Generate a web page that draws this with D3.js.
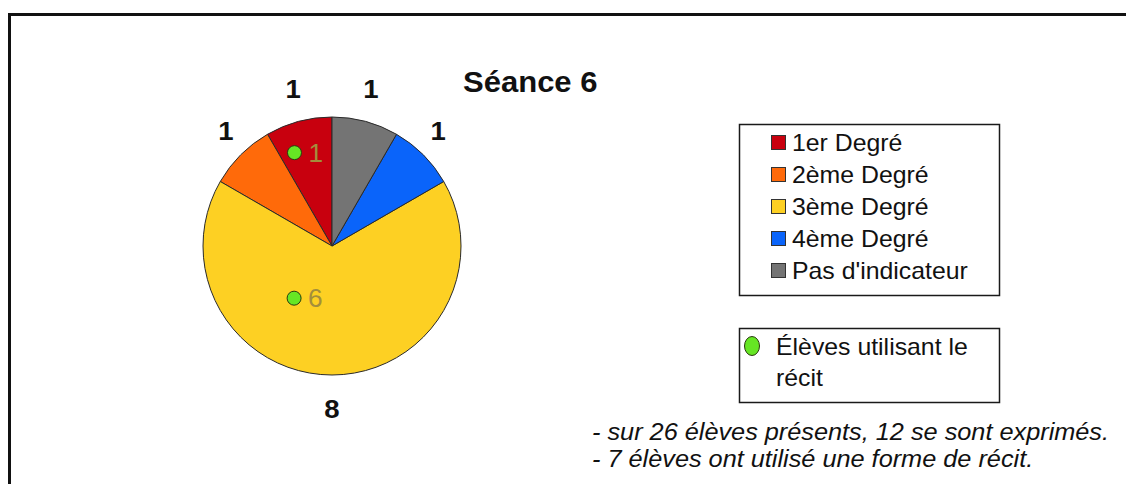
<!DOCTYPE html>
<html>
<head>
<meta charset="utf-8">
<script src="https://cdn.jsdelivr.net/npm/d3@7"></script>
<style>
    body { margin: 0; background: #fff; }
    svg { display: block; font-family: "Liberation Sans", Arial, sans-serif; }
</style>
</head>
<body>
<div id="chart"></div>
<script>
// Données de la séance
const categories = ["1er Degré", "2ème Degré", "3ème Degré", "4ème Degré", "Pas d'indicateur"];
const counts = [1, 1, 8, 1, 1];
const recitCounts = [1, 0, 6, 0, 0];
const colors = ["#c8000e", "#ff6a0a", "#fdd023", "#0a64fa", "#747474"];
const title = "Séance 6";
const recitLabel = ["Élèves utilisant le", "récit"];
const notes = [
    "- sur 26 élèves présents, 12 se sont exprimés.",
    "- 7 élèves ont utilisé une forme de récit.",
];

const W = 1126, H = 484;
const STRETCH = 1.08; // le texte de l'original est un peu élargi
const cx = 332, cy = 246, R = 129;
// étiquettes hors du camembert : rayon horizontal / vertical
const LRX = 150, LRY = 163;

// placement des pastilles vertes dans leur secteur (fraction d'angle, fraction de rayon)
const dotPlacement = { 0: { t: 0.73, r: 0.78 }, 2: { t: 0.35, r: 0.5 } };

const svg = d3.select("#chart").append("svg")
    .attr("width", W)
    .attr("height", H);

// cadre
svg.append("path")
    .attr("d", `M9.5,${H + 5} L9.5,14.5 L${W + 5},14.5`)
    .attr("fill", "none")
    .attr("stroke", "#111")
    .attr("stroke-width", 3);

function stretchedText(parent, x, y, txt, sx) {
    return parent.append("text")
        .attr("transform", `translate(${x},${y}) scale(${sx},1)`)
        .text(txt);
}

// camembert (sens anti-horaire à partir du haut)
const pie = d3.pie().sort(null).startAngle(0).endAngle(-2 * Math.PI);
const arcs = pie(counts);
const arc = d3.arc().innerRadius(0).outerRadius(R);

const g = svg.append("g").attr("transform", `translate(${cx},${cy})`);

g.selectAll("path.slice")
    .data(arcs)
    .join("path")
    .attr("class", "slice")
    .attr("d", arc)
    .attr("fill", (d, i) => colors[i])
    .attr("stroke", "#2a2a2a")
    .attr("stroke-width", 1);

g.selectAll("g.val")
    .data(arcs)
    .join("g")
    .attr("class", "val")
    .each(function (d) {
        const a = (d.startAngle + d.endAngle) / 2;
        const x = LRX * Math.sin(a), y = -LRY * Math.cos(a);
        stretchedText(d3.select(this), x, y + 9, d.data, 1.1)
            .attr("text-anchor", "middle")
            .attr("font-weight", "bold")
            .attr("font-size", 25)
            .attr("fill", "#111");
    });

// pastilles "récit"
arcs.forEach((d, i) => {
    if (!recitCounts[i]) return;
    const p = dotPlacement[i];
    const a = d.startAngle + (d.endAngle - d.startAngle) * p.t;
    const rr = R * p.r;
    const x = rr * Math.sin(a), y = -rr * Math.cos(a);
    g.append("circle")
        .attr("cx", x).attr("cy", y).attr("r", 7)
        .attr("fill", "#66e624")
        .attr("stroke", "#2a3a10")
        .attr("stroke-width", 1);
    stretchedText(g, x + 14, y + 9, recitCounts[i], 1.05)
        .attr("font-size", 25)
        .attr("fill", "#a38e3c");
});

// titre
stretchedText(svg, 463, 92, title, 1.07)
    .attr("font-weight", "bold")
    .attr("font-size", 29)
    .attr("fill", "#111");

// légende des degrés
const leg = svg.append("g");
leg.append("rect")
    .attr("x", 739.5).attr("y", 124.5)
    .attr("width", 260).attr("height", 171)
    .attr("fill", "#fff")
    .attr("stroke", "#1a1a1a")
    .attr("stroke-width", 1.5);

const rowY = d3.scaleLinear().domain([0, 1]).range([151, 183]);
categories.forEach((c, i) => {
    const y = rowY(i);
    leg.append("rect")
        .attr("x", 771.5).attr("y", y - 15.5)
        .attr("width", 14).attr("height", 14)
        .attr("fill", colors[i])
        .attr("stroke", "#333")
        .attr("stroke-width", 1);
    stretchedText(leg, 792, y, c, STRETCH)
        .attr("font-size", 23)
        .attr("fill", "#111");
});

// légende récit
const leg2 = svg.append("g");
leg2.append("rect")
    .attr("x", 739.5).attr("y", 328.5)
    .attr("width", 260).attr("height", 74)
    .attr("fill", "#fff")
    .attr("stroke", "#1a1a1a")
    .attr("stroke-width", 1.5);
leg2.append("ellipse")
    .attr("cx", 752).attr("cy", 346)
    .attr("rx", 7.5).attr("ry", 9.5)
    .attr("fill", "#66e624")
    .attr("stroke", "#2a3a10")
    .attr("stroke-width", 1);
recitLabel.forEach((t, i) => {
    stretchedText(leg2, 776, 355 + i * 31, t, STRETCH)
        .attr("font-size", 23)
        .attr("fill", "#111");
});

// notes
notes.forEach((t, i) => {
    stretchedText(svg, 592, 440 + i * 27, t, 1.1)
        .attr("font-size", 23)
        .attr("font-style", "italic")
        .attr("fill", "#111");
});
</script>
</body>
</html>
